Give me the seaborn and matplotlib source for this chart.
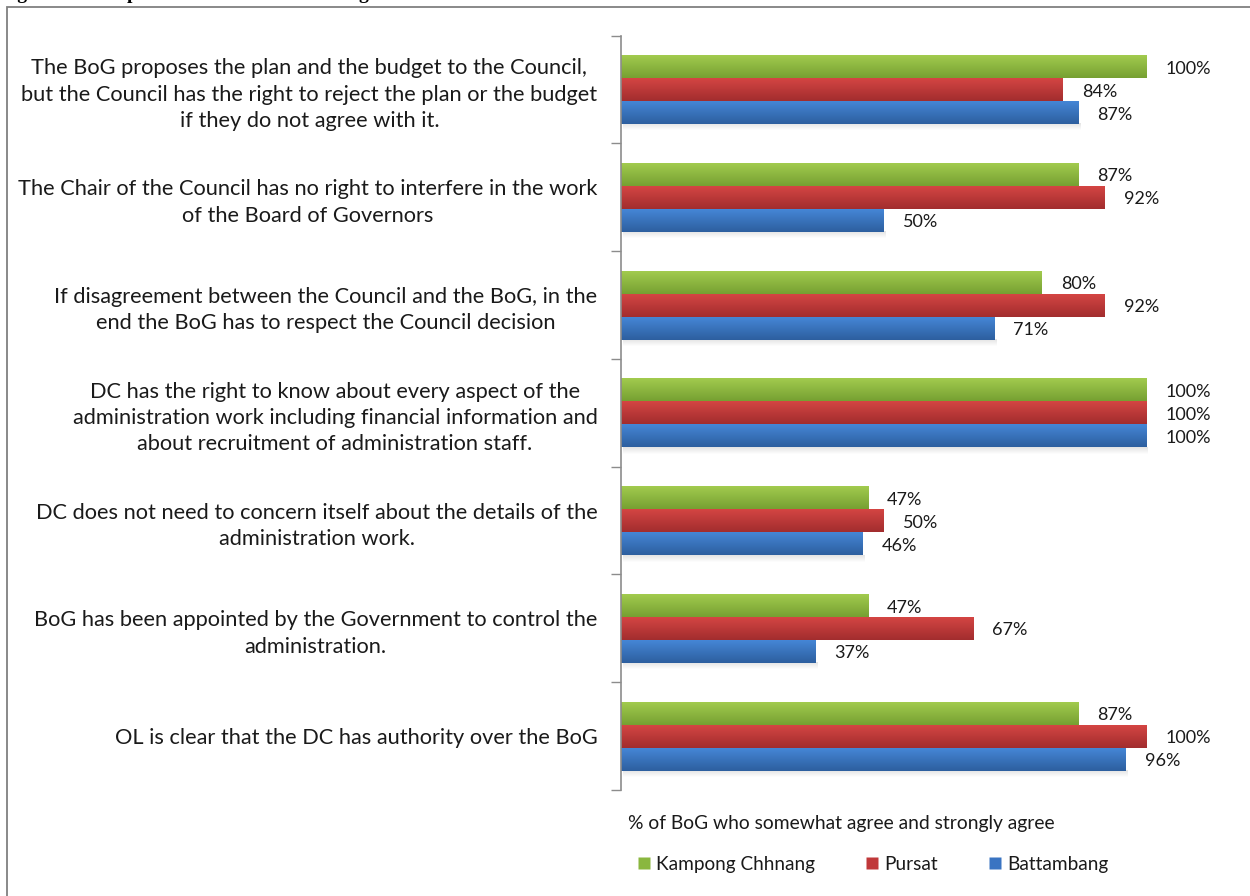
import numpy as np
import pandas as pd
import matplotlib
matplotlib.use("Agg")
import matplotlib.pyplot as plt
from matplotlib.colors import LinearSegmentedColormap
from matplotlib.patches import Rectangle
from matplotlib.lines import Line2D
import seaborn as sns

statements = [
    "The BoG proposes the plan and the budget to the Council,\nbut the Council has the right to reject the plan or the budget\nif they do not agree with it.",
    "The Chair of the Council has no right to interfere in the work\nof the Board of Governors",
    "If disagreement between the Council and the BoG, in the\nend the BoG has to respect the Council decision",
    "DC has the right to know about every aspect of the\nadministration work including financial information and\nabout recruitment of administration staff.",
    "DC does not need to concern itself about the details of the\nadministration work.",
    "BoG has been appointed by the Government to control the\nadministration.",
    "OL is clear that the DC has authority over the BoG",
]
provinces = ["Kampong Chhnang", "Pursat", "Battambang"]
kampong_chhnang = [100, 87, 80, 100, 47, 47, 87]
pursat = [84, 92, 92, 100, 50, 67, 100]
battambang = [87, 50, 71, 100, 46, 37, 96]

axis_title = "% of BoG who somewhat agree and strongly agree"
figure_title = "Figure 4: Perception of the BoG on Working Relations with District Councils"

df = pd.DataFrame({
    "statement": statements * 3,
    "province": np.repeat(provinces, len(statements)),
    "pct": kampong_chhnang + pursat + battambang,
})

base_colors = {"Kampong Chhnang": "#8AB73F", "Pursat": "#C0383A", "Battambang": "#3A74C2"}
grad_colors = {
    "Kampong Chhnang": ("#A2CB4E", "#76A032"),
    "Pursat": ("#D44543", "#A22D2E"),
    "Battambang": ("#4586D6", "#2D5F9F"),
}

sns.set_theme(style="white")
plt.rcParams["font.family"] = ["Lato", "DejaVu Sans"]
text_color = "#1a1a1a"

fig = plt.figure(figsize=(12.5, 8.96), dpi=100)
W, H = 1250, 896
ax = fig.add_axes([621 / W, 1 - 790 / H, (1147 - 621) / W, (790 - 35.6) / H])

sns.barplot(data=df, y="statement", x="pct", hue="province", hue_order=provinces,
            palette=base_colors, orient="h", width=0.64, dodge=True,
            saturation=1, ax=ax, legend=False, linewidth=0)

ax.set_xlim(0, 100)
ylim = ax.get_ylim()

# vertical shading on each bar, with a faint soft shadow below each group
shadow = LinearSegmentedColormap.from_list("shadow", ["#e2e2e2", "#ffffff"])
for container, prov in zip(ax.containers, provinces):
    top_c, bot_c = grad_colors[prov]
    cmap = LinearSegmentedColormap.from_list(prov, [top_c, bot_c])
    grad = np.linspace(0, 1, 64).reshape(-1, 1)
    for patch, val in zip(container.patches, df.loc[df.province == prov, "pct"]):
        x0, y0 = patch.get_x(), patch.get_y()
        w, h = patch.get_width(), patch.get_height()
        im = ax.imshow(grad, cmap=cmap, aspect="auto", origin="upper",
                       extent=(x0, x0 + w, y0 + h, y0), zorder=patch.get_zorder() + 0.1,
                       interpolation="bilinear")
        im.set_clip_path(patch)
        if prov == provinces[-1]:
            ax.imshow(grad, cmap=shadow, aspect="auto", origin="upper",
                      extent=(x0 + 0.3, x0 + w + 0.3, y0 + h + 0.06, y0 + h),
                      zorder=patch.get_zorder() - 0.2, interpolation="bilinear")
        # value label to the right of the bar
        ax.text(x0 + w + 3.6, y0 + h / 2 + 0.02, f"{val}%", va="center", ha="left",
                fontsize=13, color=text_color)
ax.set_xlim(0, 100)
ax.set_ylim(ylim)

# axes styling
for side in ["top", "right", "bottom"]:
    ax.spines[side].set_visible(False)
ax.spines["left"].set_color("#8c8c8c")
ax.spines["left"].set_linewidth(1.2)
ax.set_xticks([])
ax.set_xlabel("")
ax.set_ylabel("")
ax.tick_params(axis="y", which="major", length=0, pad=17)
ax.set_yticks(np.arange(-0.5, len(statements), 1.0), minor=True)
ax.tick_params(axis="y", which="minor", length=7, width=1, color="#8c8c8c", left=True)
for lbl in ax.get_yticklabels():
    lbl.set_ha("right")
    lbl.set_multialignment("center")
    lbl.set_fontsize(15.7)
    lbl.set_linespacing(1.4)
    lbl.set_color(text_color)

# axis title and legend below the plot
fig.text(628 / W, 1 - 824 / H, axis_title, ha="left", va="center", fontsize=13.9, color=text_color)
handles = [Line2D([], [], marker="s", linestyle="none", markersize=9,
                  markerfacecolor=base_colors[p], markeredgecolor="none") for p in provinces]
fig.legend(handles, provinces, loc="center left", bbox_to_anchor=(636 / W, 1 - 864 / H),
           ncol=3, frameon=False, fontsize=13.7, handlelength=0.8, handletextpad=0.25,
           columnspacing=2.6, borderaxespad=0, borderpad=0, labelcolor=text_color)

# outer frame and clipped caption above it
fig.add_artist(Rectangle((7 / W, -0.2), 1.2, 1.2 - 7 / H, transform=fig.transFigure,
                         fill=False, edgecolor="#808080", linewidth=1.3, clip_on=False))
fig.text(0.0, 1.0 + 1 / H, figure_title, ha="left", va="baseline", fontsize=14,
         fontweight="bold", family=["Liberation Serif", "DejaVu Serif"], color="black")

fig.savefig("out.png", dpi=100, facecolor="white")
